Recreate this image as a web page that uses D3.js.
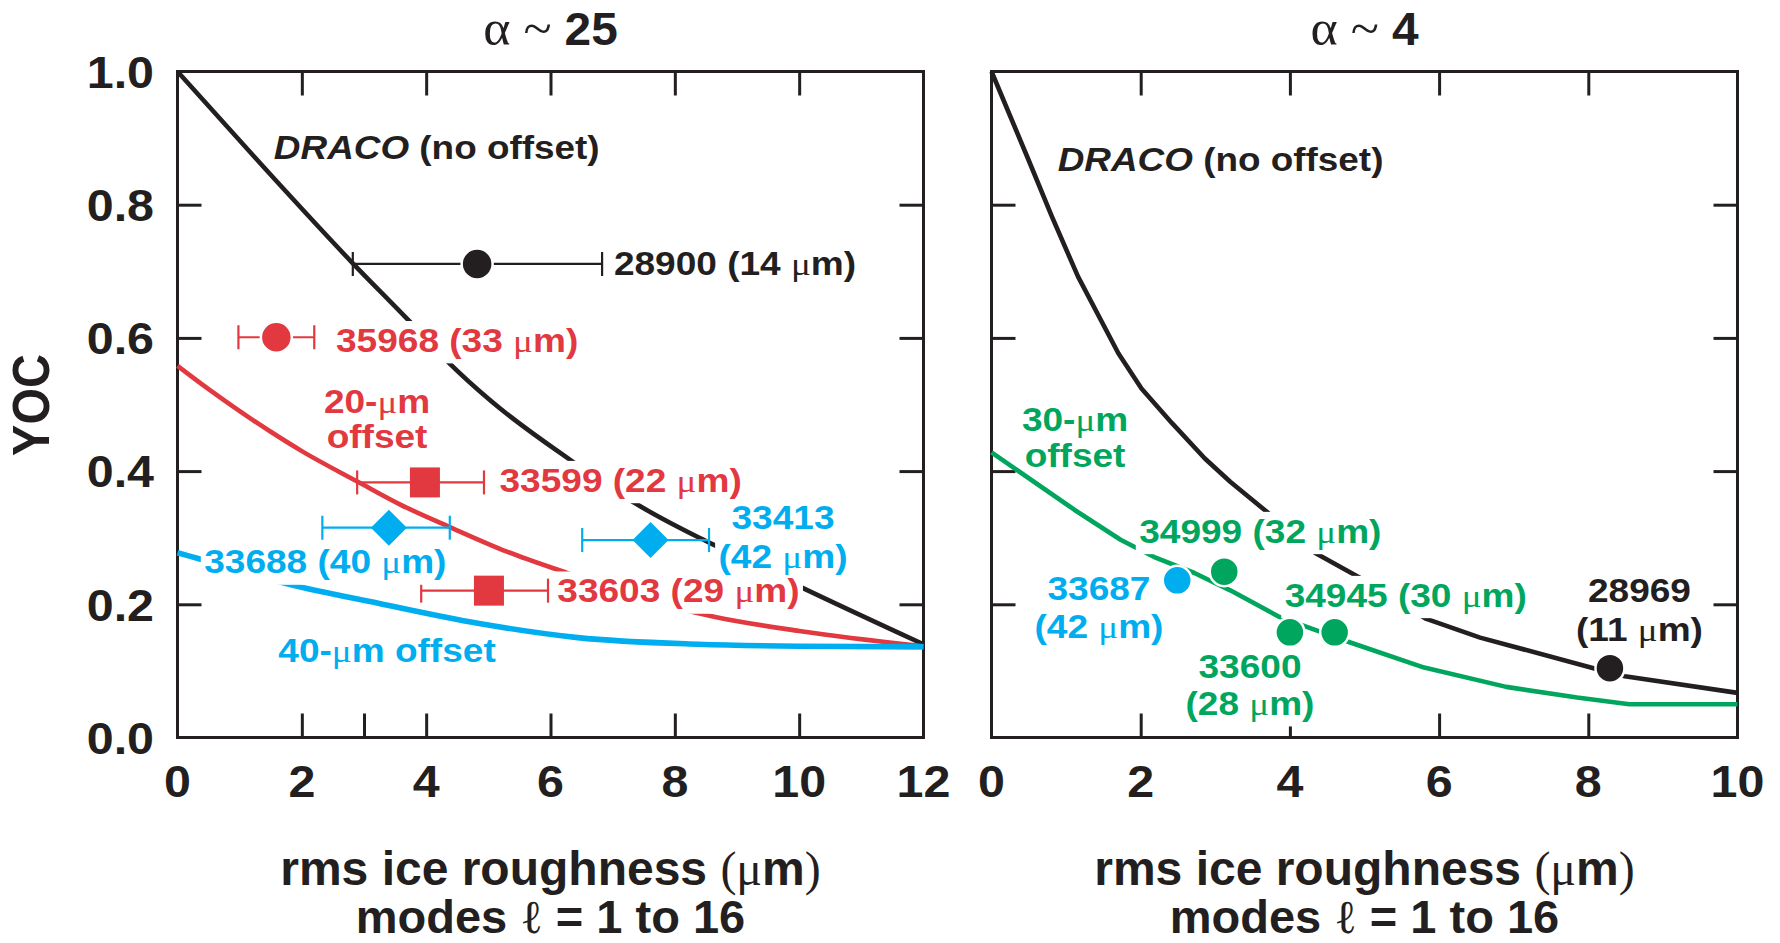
<!DOCTYPE html>
<html><head><meta charset="utf-8">
<script src="https://cdn.jsdelivr.net/npm/d3@7"></script>
<style>body{margin:0;background:#fff} svg{display:block} text{white-space:pre}</style>
</head><body>
<svg id="c" width="1780" height="943"></svg>
<script>
// ---------------- DATA ----------------
// Left panel (alpha ~ 25): curves [x, YOC]
const dracoLeft = [[0,1.0],[1.4,0.855],[2.82,0.712],[3.71,0.627],[4.35,0.564],[5.02,0.507],[6.36,0.414],[7.41,0.349],[8.37,0.301],[8.70,0.286],[10.07,0.224],[12,0.140]];
const offset20 = [[0,0.558],[0.5,0.523],[1,0.490],[1.5,0.459],[2,0.430],[2.9,0.384],[3.6,0.349],[4.38,0.316],[5.3,0.279],[6.33,0.245],[7.5,0.208],[8.65,0.181],[10,0.160],[12,0.137]];
const offset40 = [[0,0.2775],[0.36,0.268],[1.78,0.2305],[3.23,0.2015],[4.83,0.1715],[6.44,0.150],[8.37,0.140],[10,0.137],[12,0.136]];
// Left panel shots: x, yoc, error low, error high
const shotIds   = ["28900","35968","33599","33603","33688","33413"];
const shotX     = [4.82, 1.59, 3.98, 5.01, 3.40, 7.61];
const shotY     = [0.711, 0.601, 0.383, 0.2205, 0.315, 0.2965];
const shotLo    = [2.82, 0.98, 2.89, 3.92, 2.33, 6.51];
const shotHi    = [6.83, 2.20, 4.93, 5.96, 4.38, 8.55];
const shotKind  = ["circle","circle","square","square","diamond","diamond"];
const shotColor = ["black","red","red","red","blue","blue"];

// Right panel (alpha ~ 4)
const dracoRight = [[0,1.0],[0.49,0.869],[0.81,0.782],[1.16,0.692],[1.70,0.577],[2.01,0.524],[2.42,0.472],[2.86,0.419],[3.20,0.384],[3.69,0.339],[4.34,0.277],[4.92,0.241],[5.83,0.178],[6.55,0.150],[8.07,0.104],[8.49,0.092],[10,0.067]];
const offset30 = [[0,0.428],[1.11,0.342],[1.73,0.297],[2.2,0.270],[2.72,0.247],[3.2,0.221],[3.86,0.181],[4.3,0.163],[4.8,0.143],[5.8,0.105],[6.9,0.076],[7.85,0.060],[8.55,0.050],[10,0.050]];
const rShotIds   = ["33687","34999","33600","34945","28969"];
const rShotX     = [2.49, 3.12, 4.00, 4.60, 8.29];
const rShotY     = [0.236, 0.249, 0.158, 0.158, 0.104];
const rShotColor = ["blue","green","green","green","black"];

// Tick values / labels
const yTicks = [0.2,0.4,0.6,0.8];
const yTickLabels = [0,0.2,0.4,0.6,0.8,1.0];
const leftTopTicks = [2,4,6,8,10], leftBottomTicks = [2,3,4,6,8,10], leftXLabels = [0,2,4,6,8,10,12];
const rightTopTicks = [2,4,6,8], rightBottomTicks = [2,4,6,8], rightXLabels = [0,2,4,6,8,10];

// Annotation texts, anchored in data units
const leftNotes = [
  {lines:["28900 (14 μm)"], x:7.02, y:[0.694], c:"black", a:"start", knock:true},
  {lines:["35968 (33 μm)"], x:2.55, y:[0.579], c:"red", a:"start", knock:true},
  {lines:["33599 (22 μm)"], x:5.18, y:[0.369], c:"red", a:"start", knock:true},
  {lines:["33603 (29 μm)"], x:6.11, y:[0.203], c:"red", a:"start", knock:true},
  {lines:["33688 (40 μm)"], x:0.43, y:[0.2465], c:"blue", a:"start", knock:true},
  {lines:["33413","(42 μm)"], x:9.74, y:[0.3126,0.254], c:"blue", a:"middle", knock:true},
  {lines:["20-μm","offset"], x:3.21, y:[0.487,0.434], c:"red", a:"middle", knock:false},
  {lines:["40-μm offset"], x:3.37, y:[0.1138], c:"blue", a:"middle", knock:false}
];
const rightNotes = [
  {lines:["34999 (32 μm)"], x:1.98, y:[0.2925], c:"green", a:"start", knock:true},
  {lines:["34945 (30 μm)"], x:3.93, y:[0.1964], c:"green", a:"start", knock:true},
  {lines:["33687","(42 μm)"], x:1.44, y:[0.2065,0.149], c:"blue", a:"middle", knock:true},
  {lines:["33600","(28 μm)"], x:3.465, y:[0.0889,0.0338], c:"green", a:"middle", knock:true},
  {lines:["28969","(11 μm)"], x:8.686, y:[0.2039,0.1449], c:"black", a:"middle", knock:true},
  {lines:["30-μm","offset"], x:1.12, y:[0.4607,0.4057], c:"green", a:"middle", knock:false}
];

// ---------------- STYLE ----------------
const COL = {black:"#231f20", red:"#e2383f", blue:"#00aeef", green:"#00a65d"};
const SANS = '"Liberation Sans", Arial, Helvetica, sans-serif';
const SERIF = '"Liberation Serif", "Times New Roman", "DejaVu Serif", serif';
const TOP = 71.5, BOT = 737.5, TICK = 24;

const svg = d3.select("#c");
const y = d3.scaleLinear().domain([0,1]).range([BOT, TOP]);
const xL = d3.scaleLinear().domain([0,12]).range([177.5, 923.5]);
const xR = d3.scaleLinear().domain([0,10]).range([991.5, 1737.5]);

function segs(str, serifChars) {
  const out = []; let cur = "", cs = null;
  for (const ch of str) {
    const s = serifChars.includes(ch);
    if (cs === null) cs = s;
    if (s !== cs) { out.push({t:cur, serif:cs}); cur = ""; cs = s; }
    cur += ch;
  }
  if (cur) out.push({t:cur, serif:cs});
  return out;
}
function addText(layer, px, py, parts, o) {
  const t = layer.append("text")
    .attr("transform", `translate(${px},${py}) scale(${o.sx || 1},1)`)
    .attr("text-anchor", o.anchor || "start")
    .attr("font-family", SANS).attr("font-weight", "bold")
    .attr("font-size", o.size).attr("fill", o.fill || COL.black);
  parts.forEach(p => {
    const ts = t.append("tspan").text(p.t);
    if (p.serif) ts.attr("font-family", SERIF).attr("font-weight", "normal");
    if (p.italic) ts.attr("font-style", "italic");
    if (p.size) ts.attr("font-size", p.size);
  });
  return t;
}

function panel(x, topT, botT, xLabels, curves, showY) {
  const g = svg.append("g");
  const ax = g.append("g");
  const style = s => { s.select(".domain").remove(); s.selectAll("line").attr("stroke", COL.black).attr("stroke-width", 3); };
  ax.append("g").attr("transform", `translate(0,${BOT})`).call(d3.axisBottom(x).tickValues(botT).tickSize(-TICK).tickFormat("")).call(style);
  ax.append("g").attr("transform", `translate(0,${TOP})`).call(d3.axisTop(x).tickValues(topT).tickSize(-TICK).tickFormat("")).call(style);
  ax.append("g").attr("transform", `translate(${x.range()[0]},0)`).call(d3.axisLeft(y).tickValues(yTicks).tickSize(-TICK).tickFormat("")).call(style);
  ax.append("g").attr("transform", `translate(${x.range()[1]},0)`).call(d3.axisRight(y).tickValues(yTicks).tickSize(-TICK).tickFormat("")).call(style);
  g.append("rect").attr("x", x.range()[0]).attr("y", TOP)
    .attr("width", x.range()[1]-x.range()[0]).attr("height", BOT-TOP)
    .attr("fill", "none").attr("stroke", COL.black).attr("stroke-width", 3);
  xLabels.forEach(v => addText(g, x(v), 797, [{t:String(v)}], {size:44, sx:1.1, anchor:"middle"}));
  if (showY) yTickLabels.forEach(v => addText(g, x.range()[0]-23.5, y(v)+16.3, [{t:v.toFixed(1)}], {size:44, sx:1.1, anchor:"end"}));
  const cg = g.append("g");
  const line = d3.line().x(d => x(d[0])).y(d => y(d[1]));
  curves.forEach(c => {
    cg.append("path").attr("d", line.curve(c.curve)(c.data)).attr("fill", "none")
      .attr("stroke", COL[c.color]).attr("stroke-width", c.w).attr("stroke-linejoin", "round");
  });
  return {g, errL: g.append("g"), knock: g.append("g"), text: g.append("g"), marks: g.append("g")};
}

function notes(P, x, list) {
  list.forEach(n => {
    n.lines.forEach((ln, i) => {
      const t = addText(P.text, x(n.x), y(n.y[i]), segs(ln, "μ"), {size:32.5, sx:1.14, anchor:n.a, fill:COL[n.c]});
      if (n.knock) {
        const bb = t.node().getBBox();
        P.knock.append("rect").attr("transform", t.attr("transform"))
          .attr("x", bb.x-3).attr("y", bb.y-1).attr("width", bb.width+6).attr("height", bb.height+5)
          .attr("fill", "#fff");
      }
    });
  });
}

function marker(layer, kind, cx, cy, color, r) {
  if (kind === "circle") {
    layer.append("circle").attr("cx", cx).attr("cy", cy).attr("r", r)
      .attr("fill", color).attr("stroke", "#fff").attr("stroke-width", 2.5);
  } else if (kind === "square") {
    layer.append("rect").attr("x", cx-15).attr("y", cy-15).attr("width", 30).attr("height", 30)
      .attr("fill", color);
  } else {
    const h = 18;
    layer.append("path").attr("d", `M${cx},${cy-h}L${cx+h},${cy}L${cx},${cy+h}L${cx-h},${cy}Z`).attr("fill", color);
  }
}

// ---------------- LEFT PANEL ----------------
const PL = panel(xL, leftTopTicks, leftBottomTicks, leftXLabels, [
  {data:dracoLeft, color:"black", w:4.6, curve:d3.curveMonotoneX},
  {data:offset20, color:"red", w:4.6, curve:d3.curveMonotoneX},
  {data:offset40, color:"blue", w:5.6, curve:d3.curveMonotoneX}
], true);
shotIds.forEach((id, i) => {
  const c = COL[shotColor[i]], yy = y(shotY[i]);
  const eg = PL.errL.append("g").attr("stroke", c).attr("stroke-width", 2.2);
  eg.append("line").attr("x1", xL(shotLo[i])).attr("x2", xL(shotHi[i])).attr("y1", yy).attr("y2", yy);
  [shotLo[i], shotHi[i]].forEach(v => eg.append("line").attr("x1", xL(v)).attr("x2", xL(v)).attr("y1", yy-12).attr("y2", yy+12));
  marker(PL.marks, shotKind[i], xL(shotX[i]), yy, c, 15.5);
});
notes(PL, xL, leftNotes);
addText(PL.text, xL(1.55), y(0.868), [{t:"DRACO", italic:true}, {t:" (no offset)"}], {size:34, sx:1.085, fill:COL.black});

// ---------------- RIGHT PANEL ----------------
const PR = panel(xR, rightTopTicks, rightBottomTicks, rightXLabels, [
  {data:dracoRight, color:"black", w:4.6, curve:d3.curveLinear},
  {data:offset30, color:"green", w:4.6, curve:d3.curveLinear}
], false);
rShotIds.forEach((id, i) => marker(PR.marks, "circle", xR(rShotX[i]), y(rShotY[i]), COL[rShotColor[i]], 14.5));
notes(PR, xR, rightNotes);
addText(PR.text, xR(0.887), y(0.85), [{t:"DRACO", italic:true}, {t:" (no offset)"}], {size:34, sx:1.085, fill:COL.black});

// ---------------- TITLES ----------------
const mid = s => (s.range()[0] + s.range()[1]) / 2;
[[xL, "25"], [xR, "4"]].forEach(([s, a]) => {
  addText(svg, mid(s), 45, [{t:"α ~ ", serif:true, size:50}, {t:a}], {size:46, sx:1.04, anchor:"middle"});
  addText(svg, mid(s), 885, [{t:"rms ice roughness "}, {t:"(μ", serif:true}, {t:"m"}, {t:")", serif:true}], {size:48, anchor:"middle"});
  addText(svg, mid(s), 933, [{t:"modes "}, {t:"ℓ", serif:true}, {t:" = 1 to 16"}], {size:47, anchor:"middle"});
});
svg.append("text").attr("transform", "translate(49.4,405) rotate(-90) scale(1,1.1)")
  .attr("text-anchor", "middle").attr("font-family", SANS).attr("font-weight", "bold")
  .attr("font-size", 47).attr("fill", COL.black).text("YOC");
</script>
</body></html>
